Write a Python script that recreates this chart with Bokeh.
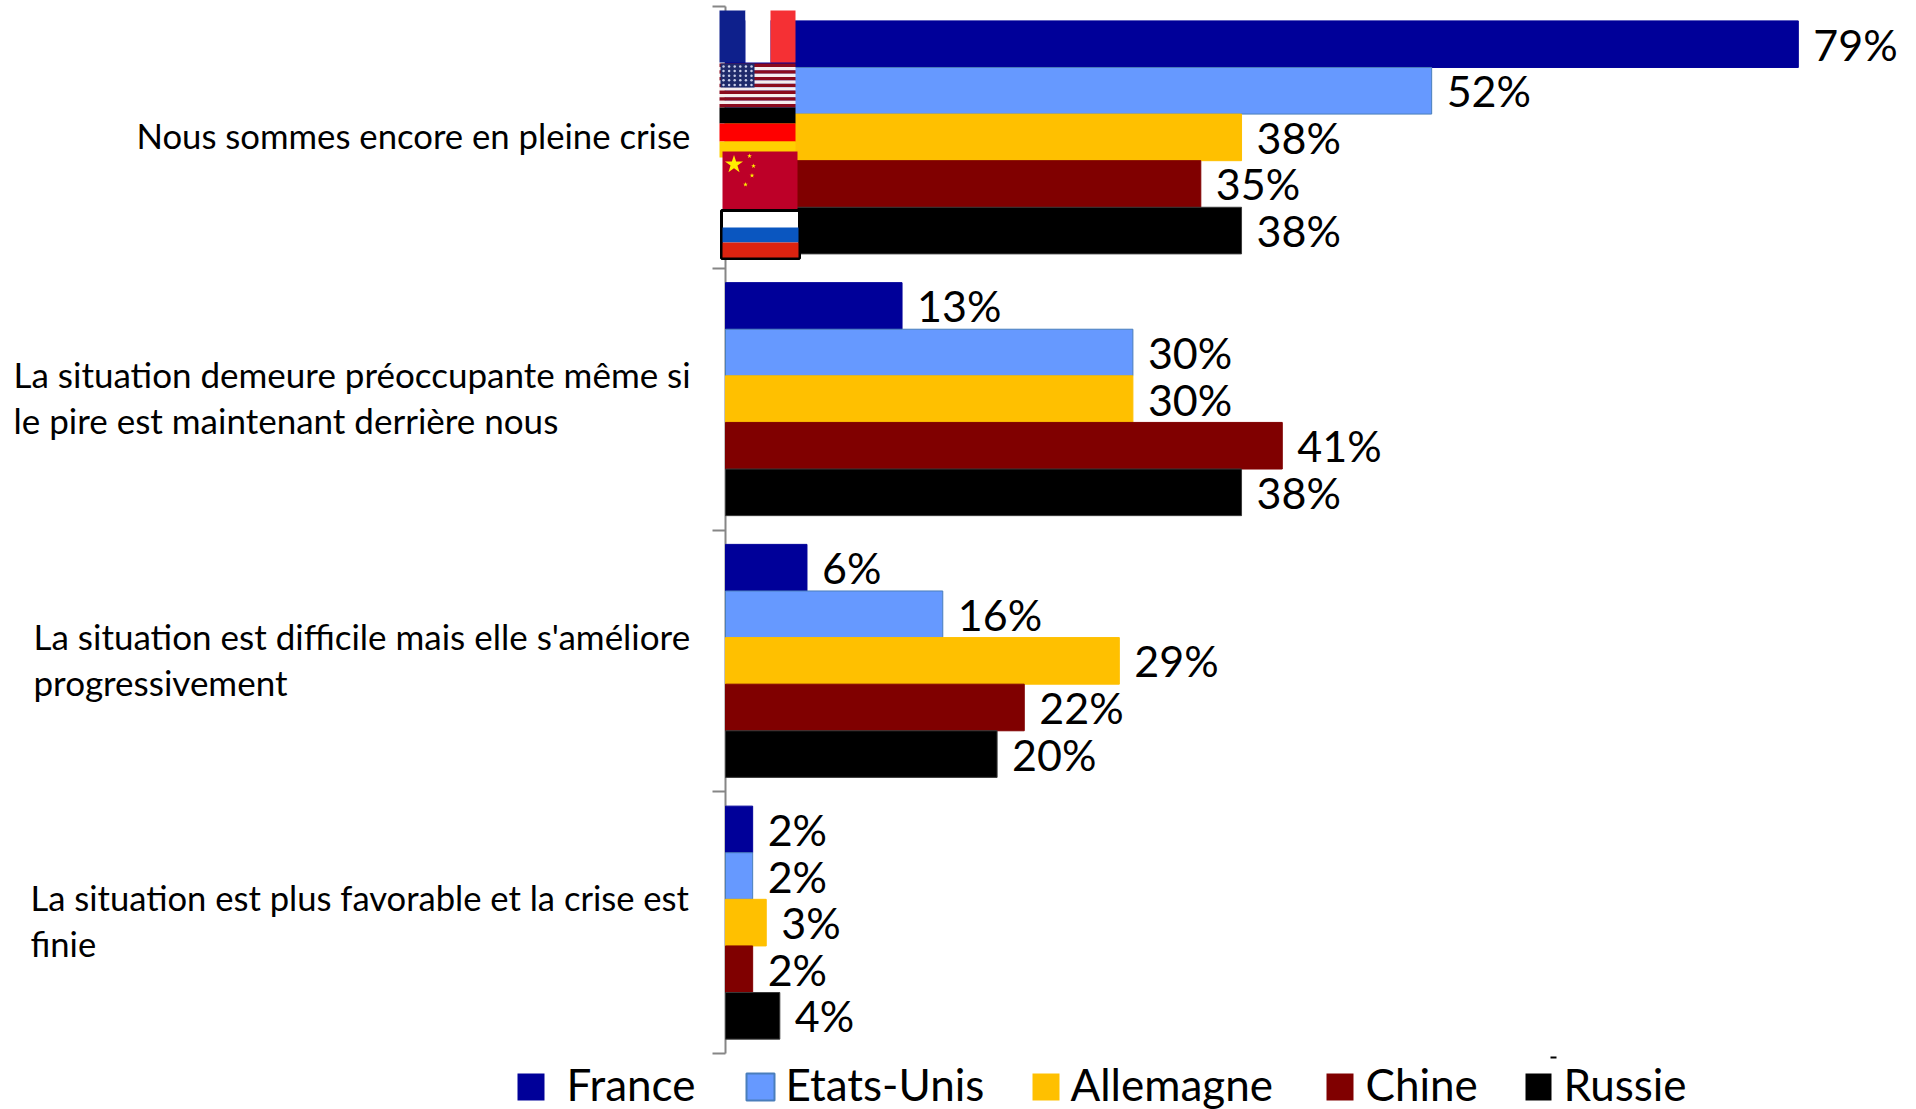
from bokeh.plotting import figure
from bokeh.embed import file_html
from bokeh.resources import INLINE
from bokeh.core.properties import value
from bokeh.models import Range1d, LinearAxis, FixedTicker

categories = [
    "Nous sommes encore en pleine crise",
    "La situation demeure préoccupante même si\nle pire est maintenant derrière nous",
    "La situation est difficile mais elle s'améliore\nprogressivement",
    "La situation est plus favorable et la crise est\nfinie",
]
series_names = ["France", "Etats-Unis", "Allemagne", "Chine", "Russie"]
france = [79, 13, 6, 2]
etats_unis = [52, 30, 16, 2]
allemagne = [38, 30, 29, 3]
chine = [35, 41, 22, 2]
russie = [38, 38, 20, 4]
colors = ["#000099", "#6699FF", "#FFC000", "#800000", "#000000"]
borders = ["#000099", "#4A7EBB", "#FFC000", "#800000", "#3a3a3a"]
series = [france, etats_unis, allemagne, chine, russie]

FONT = value("Lato")
X0, PX_PER_PCT, Y0, BAND = 725, 13.58, 6, 261.75
W, H = 1916, 1109
def X(px): return (px - X0) / PX_PER_PCT
def Y(py): return (py - Y0) / BAND

p = figure(width=W, height=H, output_backend="svg", toolbar_location=None,
           x_range=Range1d(X(0), X(W)), y_range=Range1d(Y(H), Y(0)),
           x_axis_type=None, y_axis_type=None, min_border=0,
           margin=(0, 0, 0, 0))
p.outline_line_color = None
p.xgrid.visible = False
p.ygrid.visible = False

axis = LinearAxis(ticker=FixedTicker(ticks=[0, 1, 2, 3, 4]), fixed_location=0, bounds=(0, 4))
axis.level = "underlay"
axis.major_label_text_color = None
axis.major_label_text_font_size = "1px"
axis.axis_line_color = "#868686"
axis.axis_line_width = 2
axis.major_tick_line_color = "#868686"
axis.major_tick_line_width = 2
axis.major_tick_out = 13
axis.major_tick_in = 0
axis.minor_tick_line_color = None
p.add_layout(axis, "left")

BAR_H = 46.6 / BAND
for i, (vals, c, b) in enumerate(zip(series, colors, borders)):
    ys = [k + 0.5 + (i - 2) * BAR_H for k in range(len(vals))]
    p.hbar(y=ys, left=0, right=vals, height=BAR_H, fill_color=c, line_color=b, line_width=1)
    p.text(x=vals, y=ys, text=[f"{v}%" for v in vals], text_font=FONT, text_font_size="43px",
           text_color="#000000", text_align="left", text_baseline="middle", x_offset=15, y_offset=0)

# category labels: left-aligned blocks
LEFTS = [136, 13, 33, 30]
SIZES = ["34.7px", "35px", "35px", "34.6px"]
LINE_H = 46
for k, (cat, left, fs) in enumerate(zip(categories, LEFTS, SIZES)):
    lines = cat.split("\n")
    for j, line in enumerate(lines):
        off = (j - (len(lines) - 1) / 2) * LINE_H - 2
        p.text(x=[X(left)], y=[k + 0.5 + off / BAND], text=[line], text_font=FONT,
               text_font_size=fs, text_color="#000000", text_align="left", text_baseline="middle")

def box(l, t, r, b, color, line=None, lw=1):
    p.quad(left=X(l), right=X(r), top=Y(t), bottom=Y(b), fill_color=color,
           line_color=line, line_width=lw)

# flags
box(719, 10, 745, 62, "#0E208C"); box(745, 10, 770, 62, "#FFFFFF"); box(770, 10, 795, 62, "#F53034")
for s in range(13):
    box(719, 63 + s * 44 / 13, 795, 63 + (s + 1) * 44 / 13, "#8B0A1E" if s % 2 == 0 else "#F5EDEE")
box(720, 63, 754, 87, "#1F2A6B")
for r in range(5):
    for c in range(6):
        p.scatter(x=[X(723 + c * 5.6)], y=[Y(66 + r * 4.6)], size=2.5, marker="circle",
                  fill_color="#C8CDE8", line_color=None)
box(719, 107, 795, 123, "#000000"); box(719, 123, 795, 141, "#FF0000"); box(719, 141, 795, 157, "#FFD000")
box(722, 151, 797, 211, "#BD0028")
p.scatter(x=[X(733.5)], y=[Y(164)], size=19, marker="star", fill_color="#FFEE00", line_color=None)
for sx, sy in [(749, 155.5), (753, 165.5), (751.5, 175), (745, 184)]:
    p.scatter(x=[X(sx)], y=[Y(sy)], size=5, marker="star", fill_color="#FFEE00", line_color=None)
box(721, 210, 799, 258, "#FFFFFF", "#000000", 3)
box(722, 227, 798, 242, "#0A56C0"); box(722, 242, 798, 257, "#DC2310")

# legend
SQ = [(517, 544), (746, 774), (1032, 1059), (1326, 1353), (1525, 1551)]
TX = [566, 785, 1070, 1365, 1563]
for name, c, b, (l, r), tx in zip(series_names, colors, borders, SQ, TX):
    box(l, 1073, r, 1100, c, b if name == "Etats-Unis" else None, 2)
    p.text(x=[X(tx)], y=[Y(1083)], text=[name], text_font=FONT, text_font_size="44px",
           text_color="#000000", text_align="left", text_baseline="middle")
box(1550, 1056, 1556, 1058, "#000000")

open("out.html", "w").write(file_html(p, INLINE))
